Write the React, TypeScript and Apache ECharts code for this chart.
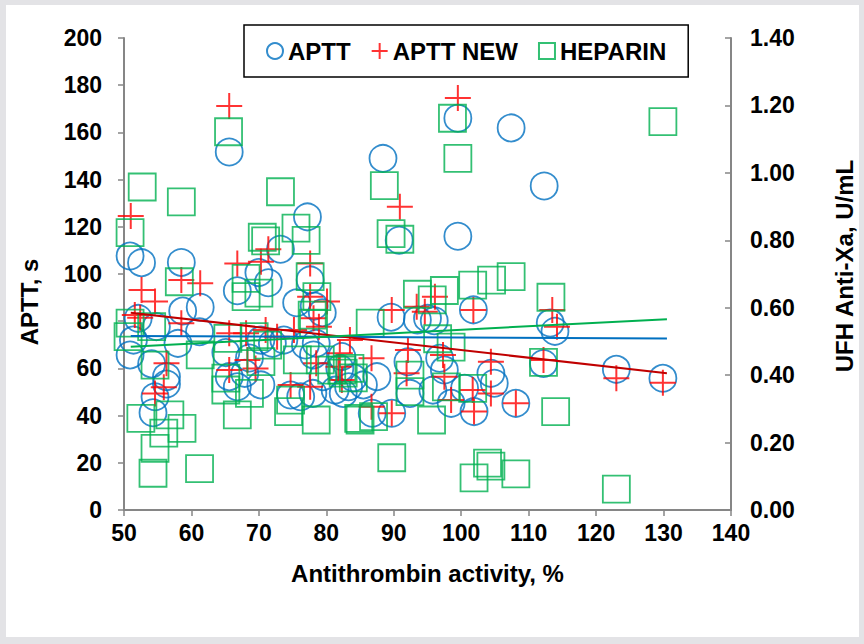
import React, { useEffect, useRef } from "react";
import * as echarts from "echarts";

// Antithrombin activity (%) vs APTT (s)
const apttPoints: [number, number][] = [
  [50.9, 107.6], [52.6, 104.8], [58.5, 104.9], [65.6, 151.7], [88.4, 149], [99.5, 166],
  [107.4, 161.9], [112.3, 137.3], [77.2, 124.2], [99.5, 116], [90.8, 114.3], [73.2, 110.5],
  [70.0, 100.6], [71.4, 96.3], [66.8, 92.9], [77.6, 97.5], [58.7, 84.3], [61.3, 85.9],
  [75.6, 87.8], [78.2, 86.4], [79.4, 83.6], [52.1, 81.2], [54.8, 77.7], [61.2, 75.5],
  [58.0, 70.6], [51.4, 72], [50.9, 65.7], [54.1, 61.9], [56.3, 56.5], [54.6, 48],
  [54.3, 41.2], [65.1, 66.7], [65.6, 56.5], [67.9, 57.9], [68.6, 64.4], [70.3, 53],
  [66.8, 52.2], [72.0, 70.6], [73.7, 72], [76.2, 48], [78.0, 49.4], [74.7, 48.7],
  [78.1, 65.7], [78.5, 70.6], [82.5, 49.4], [89.6, 81.7], [93.5, 80.5], [95.0, 81.2],
  [96.0, 80.2], [101.8, 84.8], [113.2, 79.2], [113.9, 75.7], [112.2, 62.1], [123.0, 59.6],
  [129.9, 55.8], [82.3, 65], [83.3, 52.2], [85.5, 53], [87.5, 56.5], [92.1, 62.8],
  [92.4, 49.4], [96.8, 64.3], [97.5, 59.3], [95.8, 50.8], [98.5, 45.2], [100.5, 51.6],
  [101.9, 41.7], [104.4, 57.9], [104.9, 53.7], [108.1, 45.2], [89.7, 41], [86.8, 41],
  [81.3, 50.8], [56.3, 53.4], [70.3, 72], [76.9, 69.9], [82.0, 60], [84.0, 56], [79.5, 56.5],
];

// Antithrombin activity (%) vs APTT NEW (s)
const apttNewPoints: [number, number][] = [
  [51.0, 124.6], [65.6, 171.2], [99.5, 174.6], [90.9, 128.5], [52.6, 93.2], [54.6, 88.3],
  [58.5, 97.5], [61.3, 96.1], [51.6, 82.6], [58.5, 79.1], [56.3, 62.2], [54.6, 49.4],
  [66.8, 104.5], [70.3, 105.2], [71.4, 110.5], [77.6, 104.5], [77.6, 90.4], [80.1, 88.3],
  [78.1, 81.2], [78.9, 77.7], [65.6, 74.9], [68.1, 74.9], [71.0, 76.3], [72.7, 73.4],
  [75.2, 76.3], [68.3, 63.6], [65.6, 59.3], [74.7, 53], [77.6, 52.2], [78.5, 62.2],
  [82.0, 66.4], [89.7, 84.7], [93.4, 86.1], [94.6, 84], [96.1, 90.4], [101.8, 84.7],
  [113.5, 84.7], [114.2, 77.7], [112.2, 63.6], [83.5, 72], [81.8, 60.7], [86.7, 64.3],
  [92.1, 67.8], [91.9, 57.9], [97.3, 65.7], [97.5, 56.5], [104.4, 62.8], [104.4, 49.4],
  [98.5, 46.6], [101.7, 50.8], [101.9, 41.7], [108.1, 45.2], [89.7, 41], [86.7, 43.8],
  [82.3, 55.1], [123.0, 55.8], [129.9, 53.9], [55.9, 52], [69.5, 60], [52.4, 81.5],
];

// Antithrombin activity (%) vs UFH Anti-Xa (U/mL)
const heparinPoints: [number, number][] = [
  [52.7, 0.958], [58.5, 0.914], [65.5, 1.122], [73.2, 0.944], [50.9, 0.823], [98.7, 1.162],
  [99.5, 1.043], [129.9, 1.152], [88.6, 0.962], [89.6, 0.82], [90.9, 0.803], [93.5, 0.64],
  [97.5, 0.651], [101.7, 0.667], [104.5, 0.682], [107.4, 0.692], [113.3, 0.631], [95.7, 0.623],
  [96.5, 0.508], [98.5, 0.483], [112.2, 0.438], [86.5, 0.554], [92.4, 0.4], [92.4, 0.351],
  [97.8, 0.365], [101.7, 0.361], [84.8, 0.272], [87.0, 0.277], [95.6, 0.267], [89.7, 0.155],
  [103.9, 0.139], [108.1, 0.107], [101.9, 0.095], [104.4, 0.13], [114.0, 0.292], [123.0, 0.062],
  [82.3, 0.415], [52.5, 0.272], [56.8, 0.282], [58.6, 0.242], [55.9, 0.228], [54.6, 0.183],
  [54.3, 0.109], [61.2, 0.123], [66.8, 0.282], [74.4, 0.292], [78.5, 0.267], [85.0, 0.267],
  [58.2, 0.677], [68.1, 0.687], [70.0, 0.643], [68.1, 0.633], [77.6, 0.692], [78.6, 0.633],
  [77.9, 0.578], [78.1, 0.554], [50.9, 0.554], [54.1, 0.544], [50.6, 0.514], [54.6, 0.43],
  [61.3, 0.46], [65.4, 0.509], [69.3, 0.514], [71.3, 0.489], [65.1, 0.391], [68.6, 0.346],
  [65.1, 0.356], [75.7, 0.445], [79.1, 0.445], [80.8, 0.415], [74.7, 0.326], [70.3, 0.44],
  [70.5, 0.809], [71.0, 0.798], [75.5, 0.836], [77.0, 0.8], [82.5, 0.406], [84.0, 0.392],
  [83.5, 0.42],
];

// Linear trend lines (end points)
const trendX = [51, 130.5];
const trendApttY = [73.7, 72.7];
const trendApttNewY = [83.6, 57.9];
const trendHeparinY = [0.484, 0.566];

const xTicks = { min: 50, max: 140, interval: 10 };
const yLeftTicks = { min: 0, max: 200, interval: 20 };
const yRightTicks = { min: 0, max: 1.4, interval: 0.2 };

const FONT = "'Liberation Sans', Arial, sans-serif";
const AXIS_GRAY = "#868686";

export default function App() {
  const ref = useRef<HTMLDivElement>(null);

  useEffect(() => {
    if (!ref.current) return;
    const chart = echarts.init(ref.current, undefined, { renderer: "svg" });

    const labelStyle = { fontFamily: FONT, fontWeight: "bold" as const, fontSize: 23, color: "#000" };
    const titleStyle = { fontFamily: FONT, fontWeight: "bold" as const, fontSize: 24, color: "#000" };
    const axisLine = { show: true, lineStyle: { color: AXIS_GRAY, width: 2 } };
    const axisTick = { show: true, length: 6, lineStyle: { color: AXIS_GRAY, width: 1.5 } };

    const trend = (ys: number[]) => trendX.map((x, i) => [x, ys[i]]);

    chart.setOption({
      animation: false,
      grid: { left: 124, right: 129, top: 38, bottom: 134 },
      legend: {
        left: 244,
        top: 25,
        padding: [12, 22, 12, 22],
        itemGap: 20,
        itemWidth: 16,
        itemHeight: 16,
        borderColor: "#000",
        borderWidth: 1.5,
        backgroundColor: "#fff",
        textStyle: { fontFamily: FONT, fontWeight: "bold", fontSize: 24, color: "#000", lineHeight: 28 },
        data: ["APTT", "APTT NEW", "HEPARIN"],
        selectedMode: false,
      },
      xAxis: {
        type: "value",
        ...xTicks,
        name: "Antithrombin activity, %",
        nameLocation: "middle",
        nameGap: 51,
        nameTextStyle: titleStyle,
        axisLine,
        axisTick,
        axisLabel: { ...labelStyle, margin: 11 },
        splitLine: { show: false },
      },
      yAxis: [
        {
          type: "value",
          ...yLeftTicks,
          name: "APTT, s",
          nameLocation: "middle",
          nameRotate: 90,
          nameGap: 83,
          nameTextStyle: { ...titleStyle, padding: [0, 56, 0, 0] },
          axisLine,
          axisTick,
          axisLabel: { ...labelStyle, margin: 22 },
          splitLine: { show: false },
        },
        {
          type: "value",
          position: "right",
          ...yRightTicks,
          name: "UFH Anti-Xa, U/mL",
          nameLocation: "middle",
          nameRotate: 90,
          nameGap: 101,
          nameTextStyle: { ...titleStyle, padding: [0, 0, 0, 16] },
          axisLine,
          axisTick: { ...axisTick, inside: true },
          axisLabel: { ...labelStyle, margin: 19, formatter: (v: number) => v.toFixed(2) },
          splitLine: { show: false },
        },
      ],
      series: [
        {
          name: "APTT",
          type: "scatter",
          symbol: "circle",
          symbolSize: 27,
          data: apttPoints,
          itemStyle: { color: "rgba(0,0,0,0)", borderColor: "#0070c0", borderWidth: 1.8 },
          emphasis: { disabled: true },
          z: 2,
        },
        {
          name: "APTT NEW",
          type: "scatter",
          symbol: "path://M5,0 L5,10 M0,5 L10,5",
          symbolSize: 26,
          data: apttNewPoints,
          itemStyle: { color: "rgba(0,0,0,0)", borderColor: "#ff0000", borderWidth: 2 },
          emphasis: { disabled: true },
          z: 3,
        },
        {
          name: "HEPARIN",
          type: "scatter",
          symbol: "rect",
          symbolSize: 27,
          yAxisIndex: 1,
          data: heparinPoints,
          itemStyle: { color: "rgba(0,0,0,0)", borderColor: "#00b050", borderWidth: 1.8 },
          emphasis: { disabled: true },
          z: 4,
        },
        {
          type: "line",
          data: trend(trendApttY),
          symbol: "none",
          lineStyle: { color: "#0070c0", width: 2 },
          silent: true,
          z: 5,
        },
        {
          type: "line",
          data: trend(trendApttNewY),
          symbol: "none",
          lineStyle: { color: "#c00000", width: 2 },
          silent: true,
          z: 5,
        },
        {
          type: "line",
          yAxisIndex: 1,
          data: trend(trendHeparinY),
          symbol: "none",
          lineStyle: { color: "#00b050", width: 2 },
          silent: true,
          z: 5,
        },
      ],
    });

    return () => chart.dispose();
  }, []);

  return (
    <div style={{ position: "absolute", left: 0, top: 0, width: 864, height: 644, background: "#e3e3e6" }}>
      <div style={{ position: "absolute", left: 6, top: 5, width: 853, height: 632, background: "#fff" }} />
      <div ref={ref} style={{ position: "absolute", left: 0, top: 0, width: 864, height: 644 }} />
    </div>
  );
}
